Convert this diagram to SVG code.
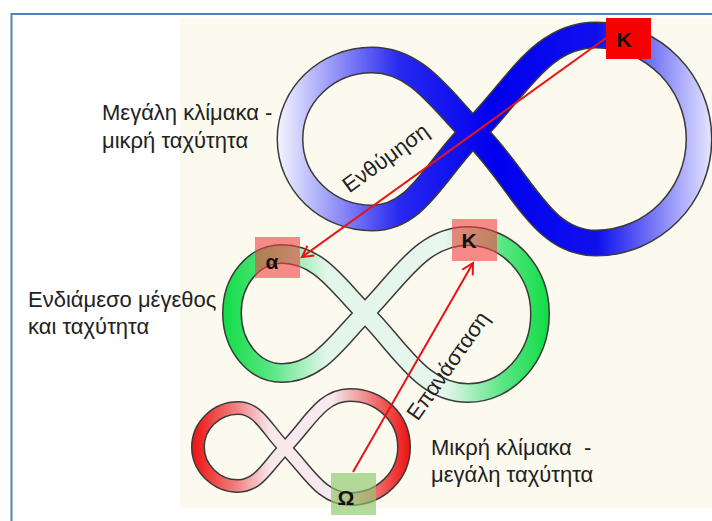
<svg xmlns="http://www.w3.org/2000/svg" width="712" height="521" viewBox="0 0 712 521">
<style>
.outline{fill:none;stroke:#3a3a3a;stroke-linejoin:round}
.band{fill:none;stroke-linejoin:round}
.lbl{font-family:"Liberation Sans","DejaVu Sans",sans-serif;font-size:22px;fill:#222}
.tag{font-family:"Liberation Sans","DejaVu Sans",sans-serif;font-size:21px;font-weight:bold;fill:#111;text-anchor:middle}
.conn{fill:none;stroke:#E81414;stroke-width:2}
</style>
<defs>
<linearGradient id="gBlue" gradientUnits="userSpaceOnUse" x1="278" y1="0" x2="711" y2="0">
<stop offset="0" stop-color="#F4F4FF"/>
<stop offset="0.28" stop-color="#2828F0"/>
<stop offset="0.5" stop-color="#0000EE"/>
<stop offset="0.74" stop-color="#1010EE"/>
<stop offset="1" stop-color="#E4E4FF"/>
</linearGradient>
<linearGradient id="gGreen" gradientUnits="userSpaceOnUse" x1="222" y1="0" x2="549" y2="0">
<stop offset="0" stop-color="#10DC44"/>
<stop offset="0.15" stop-color="#5AE684"/>
<stop offset="0.32" stop-color="#E2F6E9"/>
<stop offset="0.68" stop-color="#E8F6EE"/>
<stop offset="0.86" stop-color="#5AE684"/>
<stop offset="1" stop-color="#10DC44"/>
</linearGradient>
<linearGradient id="gRed" gradientUnits="userSpaceOnUse" x1="192" y1="0" x2="410" y2="0">
<stop offset="0" stop-color="#EE1111"/>
<stop offset="0.2" stop-color="#F08080"/>
<stop offset="0.36" stop-color="#F8E8EC"/>
<stop offset="0.64" stop-color="#F6EAEE"/>
<stop offset="0.84" stop-color="#F07070"/>
<stop offset="1" stop-color="#EE1111"/>
</linearGradient>
<marker id="arr" markerUnits="userSpaceOnUse" markerWidth="14" markerHeight="14" refX="12" refY="7" orient="auto" overflow="visible">
<path d="M1,1 L12,7 L1,13" fill="none" stroke="#E81414" stroke-width="2"/>
</marker>
<path id="p8big" d="M473,132 C517,88 541,35 596,35 C653,35 699,82 699,139 C699,196 653,243 596,243 C541,243 523,182 473,132 C441,100 417,60 372,60 C327,60 290,95 290,139 C290,183 327,218 372,218 C417,218 434,171 473,132 Z"/>
<path id="p8mid" d="M365,313 C400,278 422,236 468,236 C508,236 540,271 540,314 C540,357 508,393 468,393 C422,393 401,349 365,313 C338,286 319,254 282,254 C254,254 232,280 232,313 C232,346 254,373 282,373 C319,373 338,340 365,313 Z"/>
<path id="p8small" d="M285,448 C309,424 321,395 350,395 C380,395 404,418 404,447 C404,476 380,499 350,499 C321,499 308,471 285,448 C267,430 259,408 238,408 C216,408 198,426 198,447 C198,468 216,486 238,486 C259,486 268,465 285,448 Z"/>
</defs>
<rect x="0" y="0" width="712" height="521" fill="#FFFFFF"/>
<rect x="11.5" y="14" width="720" height="530" fill="none" stroke="#4F81BD" stroke-width="2"/>
<rect x="180" y="18" width="532" height="490" fill="#FCFAEF"/>

<g id="loop-large">
<use href="#p8big" class="outline" stroke-width="27"/>
<use href="#p8big" class="band" stroke="url(#gBlue)" stroke-width="24"/>
</g>
<g id="loop-medium">
<use href="#p8mid" class="outline" stroke-width="20"/>
<use href="#p8mid" class="band" stroke="url(#gGreen)" stroke-width="17"/>
</g>
<g id="loop-small">
<use href="#p8small" class="outline" stroke-width="14"/>
<use href="#p8small" class="band" stroke="url(#gRed)" stroke-width="11"/>
</g>

<g id="box-K-large">
<rect x="606" y="18" width="45" height="41" fill="#F80000"/>
<text class="tag" x="624" y="47">Κ</text>
</g>
<g id="box-alpha">
<rect x="255" y="237" width="45" height="41" fill="#F04040" fill-opacity="0.6"/>
<text class="tag" x="272" y="269">α</text>
</g>
<g id="box-K-medium">
<rect x="452" y="219" width="45" height="42" fill="#F04040" fill-opacity="0.6"/>
<text class="tag" x="469" y="248">Κ</text>
</g>
<g id="box-omega">
<rect x="331" y="473" width="45" height="42" fill="#8CC86A" fill-opacity="0.65"/>
<text class="tag" x="346" y="505">Ω</text>
</g>

<g id="connectors">
<line class="conn" x1="606" y1="38" x2="302" y2="257" marker-end="url(#arr)"/>
<line class="conn" x1="353" y1="472" x2="473" y2="263" marker-end="url(#arr)"/>
</g>

<g id="labels">
<text class="lbl" x="102" y="120">Μεγάλη κλίμακα -</text>
<text class="lbl" x="102" y="148">μικρή ταχύτητα</text>
<text class="lbl" x="28" y="307">Ενδιάμεσο μέγεθος</text>
<text class="lbl" x="28" y="334">και ταχύτητα</text>
<text class="lbl" x="431" y="455" xml:space="preserve">Μικρή κλίμακα  -</text>
<text class="lbl" x="431" y="482">μεγάλη ταχύτητα</text>
<text class="lbl" x="390" y="164" text-anchor="middle" transform="rotate(-36 390 164)">Ενθύμηση</text>
<text class="lbl" x="454" y="370" text-anchor="middle" transform="rotate(-55 454 370)">Επανάσταση</text>
</g>
</svg>
